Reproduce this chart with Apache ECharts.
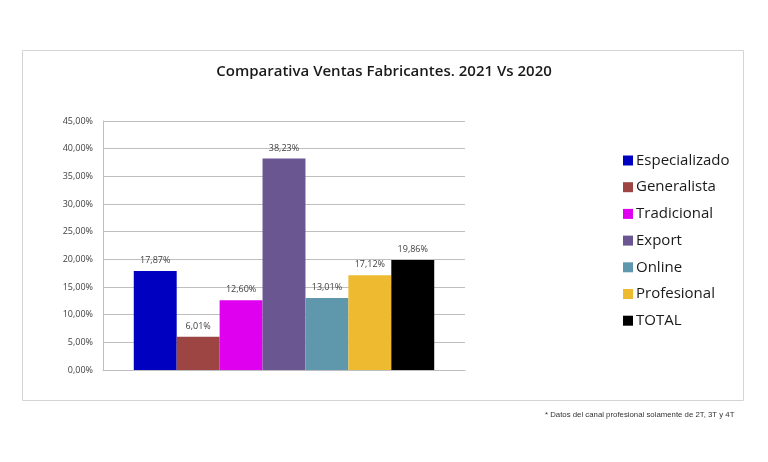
<!DOCTYPE html>
<html>
<head>
<meta charset="utf-8">
<script src="https://cdn.jsdelivr.net/npm/echarts@6/dist/echarts.min.js"></script>
<style>
  html, body { margin: 0; padding: 0; background: #fff; }
  #chart { width: 768px; height: 462px; }
</style>
</head>
<body>
<div id="chart"></div>
<script>
const canales = ['Especializado', 'Generalista', 'Tradicional', 'Export', 'Online', 'Profesional', 'TOTAL'];
const variacion = [17.87, 6.01, 12.60, 38.23, 13.01, 17.12, 19.86];
const colores = ['#0000c0', '#9c4543', '#e000f0', '#6a5690', '#5f97ad', '#eebb30', '#000000'];
const yTicks = [0, 5, 10, 15, 20, 25, 30, 35, 40, 45];

const fmt = v => v.toFixed(2).replace('.', ',') + '%';

const chart = echarts.init(document.getElementById('chart'));

const series = canales.map((name, i) => ({
  name: name,
  type: 'bar',
  data: [variacion[i]],
  barGap: '0%',
  barCategoryGap: '17%',
  itemStyle: { color: colores[i] },
  label: {
    show: true,
    position: 'top',
    distance: 6,
    formatter: p => fmt(p.value),
    color: '#404040',
    fontSize: 9,
    fontFamily: 'Open Sans'
  }
}));

chart.setOption({
  animation: false,
  title: {
    text: 'Comparativa Ventas Fabricantes. 2021 Vs 2020',
    left: 'center',
    top: 59,
    textStyle: { fontFamily: 'Open Sans', fontWeight: 600, fontSize: 15, color: '#1a1a1a' }
  },
  graphic: [
    {
      type: 'rect',
      shape: { x: 22.5, y: 50.5, width: 721, height: 350 },
      style: { fill: 'none', stroke: '#d4d4d4', lineWidth: 1 },
      silent: true
    },
    {
      type: 'text',
      left: 545,
      top: 411,
      style: {
        text: '* Datos del canal profesional solamente de 2T, 3T y 4T',
        fontSize: 7.8,
        fontFamily: 'Liberation Sans',
        fill: '#333'
      }
    }
  ],
  legend: {
    orient: 'vertical',
    left: 618,
    top: 148,
    itemWidth: 10,
    itemHeight: 10,
    itemGap: 11.7,
    icon: 'rect',
    textStyle: { fontSize: 15, fontFamily: 'Open Sans', color: '#1a1a1a', padding: [0, 0, 0, -2] },
    data: canales
  },
  grid: { left: 103, right: 303, top: 121, bottom: 92 },
  xAxis: {
    type: 'category',
    data: [''],
    axisLine: { lineStyle: { color: '#bfbfbf' } },
    axisTick: { show: false },
    axisLabel: { show: false }
  },
  yAxis: {
    type: 'value',
    min: yTicks[0],
    max: yTicks[yTicks.length - 1],
    interval: 5,
    axisLine: { show: true, lineStyle: { color: '#bfbfbf' } },
    axisTick: { show: false },
    splitLine: { lineStyle: { color: '#bfbfbf' } },
    axisLabel: {
      formatter: v => fmt(v),
      color: '#404040',
      fontSize: 9,
      fontFamily: 'Open Sans',
      margin: 10
    }
  },
  series: series
});
</script>
</body>
</html>
